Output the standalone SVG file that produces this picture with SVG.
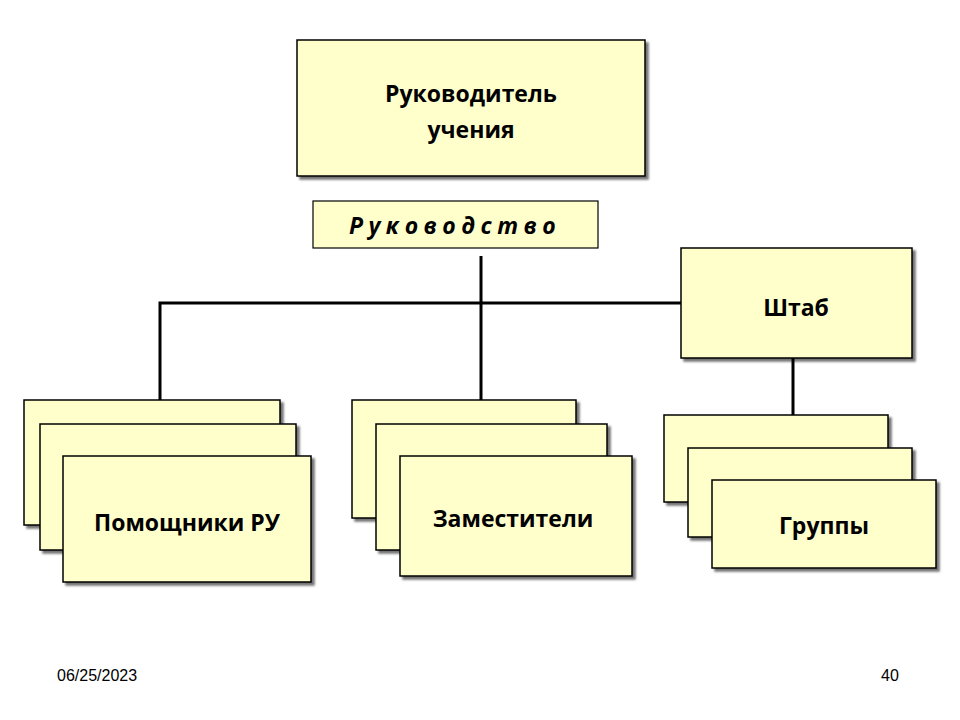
<svg xmlns="http://www.w3.org/2000/svg" width="960" height="720" viewBox="0 0 960 720">
<defs>
<filter id="sh" x="-10%" y="-10%" width="130%" height="130%"><feDropShadow dx="3" dy="3" stdDeviation="1.2" flood-color="#000" flood-opacity="0.55"/></filter>
</defs>
<style>
.b{fill:#FFFFCC;stroke:#000;stroke-width:1.5;filter:url(#sh)}
.t{font-family:"Open Sans","Liberation Sans",sans-serif;font-weight:bold;font-size:23px;text-anchor:middle;fill:#000}
.c{stroke:#000;stroke-width:3;fill:none}
.f{font-family:"Liberation Sans",sans-serif;font-size:16px;fill:#000}
</style>
<rect width="960" height="720" fill="#fff"/>
<g id="connectors">
<path class="c" d="M481 256V400M160 400V303H681M793 358V415"/>
</g>
<g id="rukovoditel"><rect class="b" x="297" y="40" width="348" height="136"/><text class="t" x="471" y="102">Руководитель</text><text class="t" x="471" y="138">учения</text></g>
<g id="rukovodstvo"><rect x="313" y="201" width="285" height="47" fill="#FFFFCC" stroke="#000" stroke-width="1.2"/><text class="t" x="455" y="234" font-style="italic" letter-spacing="5.5">Руководство</text></g>
<g id="shtab"><rect class="b" x="681" y="248" width="231" height="110"/><text class="t" x="796" y="316">Штаб</text></g>
<g id="pomoshchniki"><rect class="b" x="24" y="400" width="256" height="125"/><rect class="b" x="40" y="424" width="256" height="126"/><rect class="b" x="63" y="456" width="248" height="126"/><text class="t" x="187" y="531">Помощники РУ</text></g>
<g id="zamestiteli"><rect class="b" x="352" y="400" width="224" height="118"/><rect class="b" x="376" y="424" width="231" height="126"/><rect class="b" x="400" y="456" width="232" height="120"/><text class="t" x="513" y="527">Заместители</text></g>
<g id="gruppy"><rect class="b" x="664" y="415" width="224" height="87"/><rect class="b" x="688" y="448" width="224" height="89"/><rect class="b" x="712" y="480" width="224" height="88"/><text class="t" x="824" y="534">Группы</text></g>
<text class="f" x="57" y="681">06/25/2023</text>
<text class="f" x="881" y="681">40</text>
</svg>
